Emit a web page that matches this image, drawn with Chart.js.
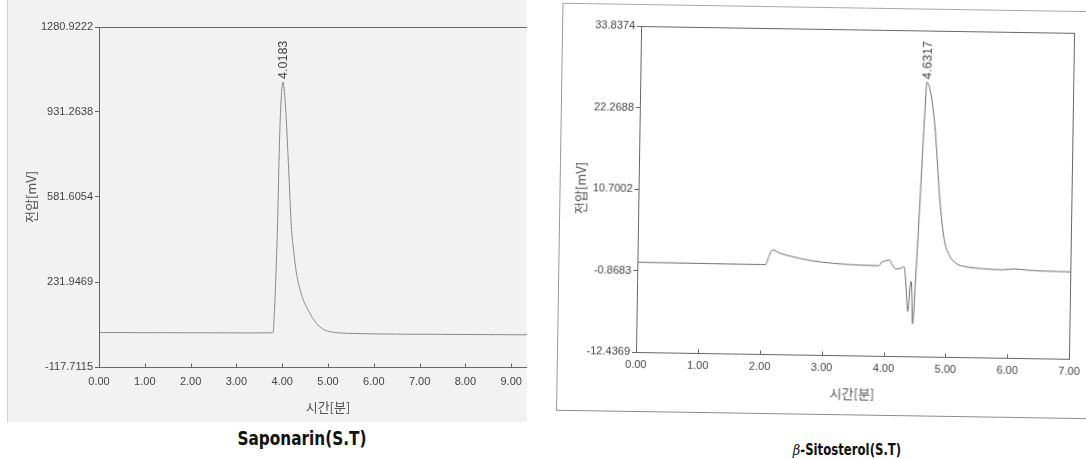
<!DOCTYPE html>
<html>
<head>
<meta charset="utf-8">
<script src="https://cdn.jsdelivr.net/npm/chart.js@4.4.0/dist/chart.umd.min.js"></script>
<style>
  html, body { margin: 0; padding: 0; background: #fff; width: 1086px; height: 459px; overflow: hidden; }
  #left { position: absolute; left: 0; top: 0; width: 527px; height: 422px; overflow: hidden; }
  #leftBg { position: absolute; left: 7px; top: 0; width: 520px; height: 422px; background: #f2f2f2;
            border-left: 1px solid #cfcfcf; box-sizing: border-box; }
  #leftCanvas { position: absolute; left: 0; top: 0; }
  #right { position: absolute; left: 557px; top: 4px; width: 529px; height: 408px;
           transform-origin: 79px 348px; transform: rotate(0.9deg); }
  #rightFrame { position: absolute; left: 0; top: 0; width: 600px; height: 408px; box-sizing: border-box;
                border-left: 1px solid #9a9a9a; border-top: 1px solid #a8a8a8; border-bottom: 1px solid #8c8c8c; }
  #rightCanvas { position: absolute; left: 0; top: 0; }
  .cap { position: absolute; white-space: nowrap; color: #111; font-weight: bold;
         font-family: 'DejaVu Sans Condensed', 'Liberation Sans Narrow', sans-serif; }
  .beta { font-family: 'DejaVu Serif', serif; font-style: italic; font-weight: normal; }
</style>
</head>
<body>
<div id="left">
  <div id="leftBg"></div>
  <canvas id="leftCanvas" width="600" height="422"></canvas>
</div>
<div id="right">
  <div id="rightFrame"></div>
  <canvas id="rightCanvas" width="529" height="408"></canvas>
</div>
<div class="cap" style="left:302px; top:438px; font-size:17px; transform: translate(-50%, -50%) scale(1, 1.12);">Saponarin(S.T)</div>
<div class="cap" style="left:847px; top:449px; font-size:14px; transform: translate(-50%, -50%) scale(0.93, 1.12);"><span class="beta">β</span>-Sitosterol(S.T)</div>

<script>
// Axis titles
const timeTitle = '시간[분]';
const voltTitle = '전압[mV]';

// Saponarin standard trace (time in min, detector signal in mV)
const saponarinTime = [0, 0.5, 1, 1.5, 2, 2.5, 3, 3.5, 3.78, 3.8, 3.83, 3.87, 3.9, 3.94, 3.97, 4.0183,
  4.05, 4.08, 4.14, 4.2, 4.25, 4.31, 4.43, 4.58, 4.73, 4.88, 5.03, 5.3, 5.6, 6, 6.5, 7, 7.5, 8, 8.5, 9, 9.5, 10];
const saponarinMv = [24, 24, 23.5, 23.5, 23, 23, 22.5, 22.5, 23, 24, 110, 300, 480, 800, 960, 1055,
  1010, 930, 700, 460, 360, 270, 175, 112, 66, 40, 28, 22, 20, 18.5, 17.5, 17, 16.5, 16, 15.5, 15, 15, 15];
const saponarinTimeTicks = [0, 1, 2, 3, 4, 5, 6, 7, 8, 9, 10];
const saponarinMvTicks = [-117.7115, 231.9469, 581.6054, 931.2638, 1280.9222];
const saponarinPeaks = [4.0183];

// beta-Sitosterol standard trace
const sitosterolTime = [0, 0.5, 1, 1.5, 2, 2.07, 2.12, 2.18, 2.3, 2.5, 2.75, 3, 3.3, 3.6, 3.9, 3.95, 4.0, 4.07,
  4.12, 4.18, 4.26, 4.31, 4.345, 4.38, 4.41, 4.43, 4.46, 4.5, 4.55, 4.6, 4.6317, 4.76, 4.87, 4.95, 5.03,
  5.14, 5.3, 5.6, 5.9, 6.1, 6.3, 6.6, 7];
const sitosterolMv = [0.3, 0.3, 0.28, 0.26, 0.25, 0.25, 1.4, 2.35, 1.9, 1.45, 1.0, 0.72, 0.5, 0.4, 0.35, 0.9, 1.05, 1.2,
  0.5, -0.1, 0.05, 0.25, -2.5, -6.1, -2.6, -1.8, -7.8, -1.0, 9.8, 21.1, 26.5, 21.2, 9.8, 4.2, 2.1,
  0.9, 0.4, 0.15, 0.05, 0.2, 0.05, -0.05, -0.1];
const sitosterolTimeTicks = [0, 1, 2, 3, 4, 5, 6, 7];
const sitosterolMvTicks = [-12.4369, -0.8683, 10.7002, 22.2688, 33.8374];
const sitosterolPeaks = [4.6317];

const tickFont = { family: 'Liberation Sans, Arial, sans-serif', size: 11 };
const koFont = { family: 'Noto Sans CJK KR, sans-serif', size: 13 };

// Plot frame plus short inward tick marks on the time axis
const framePlugin = {
  id: 'frame',
  afterDraw(chart) {
    const { ctx, chartArea: a, scales: { x } } = chart;
    ctx.save();
    ctx.strokeStyle = '#666';
    ctx.lineWidth = 1;
    const l = Math.round(a.left) + 0.5, t = Math.round(a.top) + 0.5;
    const r = Math.round(a.right) + 0.5, b = Math.round(a.bottom) + 0.5;
    ctx.strokeRect(l, t, r - l, b - t);
    x.ticks.forEach(tk => {
      const px = Math.round(x.getPixelForValue(tk.value)) + 0.5;
      ctx.beginPath();
      ctx.moveTo(px, b);
      ctx.lineTo(px, b - 4);
      ctx.stroke();
    });
    ctx.restore();
  }
};

// Vertical retention-time labels above each peak apex
const peakLabelPlugin = {
  id: 'peakLabels',
  afterDatasetsDraw(chart, args, opts) {
    const { ctx, scales: { x, y } } = chart;
    const pts = chart.data.datasets[0].data;
    (opts.times || []).forEach(t => {
      const apex = pts.reduce((best, p) => Math.abs(p.x - t) < Math.abs(best.x - t) ? p : best);
      const px = x.getPixelForValue(apex.x);
      const py = y.getPixelForValue(apex.y);
      ctx.save();
      ctx.translate(px + 1, py - 3);
      ctx.rotate(-Math.PI / 2);
      ctx.font = '12.5px "Liberation Sans", Arial, sans-serif';
      ctx.fillStyle = '#444';
      ctx.textAlign = 'left';
      ctx.textBaseline = 'middle';
      ctx.fillText(t.toFixed(4), 0, 0);
      ctx.restore();
    });
  }
};

function chromatogram(canvas, o) {
  const points = o.time.map((t, i) => ({ x: t, y: o.mv[i] }));
  return new Chart(canvas, {
    type: 'line',
    data: { datasets: [{ data: points, borderColor: o.lineColor, borderWidth: 1, pointRadius: 0,
      cubicInterpolationMode: 'monotone', fill: false }] },
    options: {
      responsive: false,
      animation: false,
      events: [],
      layout: { padding: o.padding },
      plugins: { legend: { display: false }, tooltip: { enabled: false }, peakLabels: { times: o.peaks } },
      scales: {
        x: {
          type: 'linear',
          min: o.timeTicks[0],
          max: o.timeTicks[o.timeTicks.length - 1],
          afterBuildTicks: s => { s.ticks = o.timeTicks.map(v => ({ value: v })); },
          afterFit: s => { s.height = o.xAxisHeight; },
          border: { display: false },
          grid: { display: false, drawTicks: false },
          ticks: { font: tickFont, color: '#444', padding: o.xTickPad, maxRotation: 0, autoSkip: false,
            callback: v => Number(v).toFixed(2) },
          title: { display: true, text: timeTitle, font: koFont, color: '#555',
            padding: { top: 0, bottom: o.xTitlePad } }
        },
        y: {
          type: 'linear',
          min: o.mvTicks[0],
          max: o.mvTicks[o.mvTicks.length - 1],
          afterBuildTicks: s => { s.ticks = o.mvTicks.map(v => ({ value: v })); },
          afterFit: s => { s.width = o.yAxisWidth; },
          border: { display: false },
          grid: { display: true, drawOnChartArea: false, drawTicks: true, tickLength: 4, tickColor: '#666' },
          ticks: { font: tickFont, color: '#444', padding: 2, autoSkip: false,
            callback: v => Number(v).toFixed(4) },
          title: { display: true, text: voltTitle, font: koFont, color: '#555',
            padding: { top: o.yTitlePad, bottom: 0 } }
        }
      }
    },
    plugins: [framePlugin, peakLabelPlugin]
  });
}

chromatogram(document.getElementById('leftCanvas'), {
  time: saponarinTime, mv: saponarinMv, timeTicks: saponarinTimeTicks, mvTicks: saponarinMvTicks,
  peaks: saponarinPeaks, lineColor: '#8a8a8a',
  padding: { top: 27, right: 43, left: 0, bottom: 0 },
  yAxisWidth: 99, xAxisHeight: 55, xTickPad: 8, xTitlePad: 7, yTitlePad: 23
});

chromatogram(document.getElementById('rightCanvas'), {
  time: sitosterolTime, mv: sitosterolMv, timeTicks: sitosterolTimeTicks, mvTicks: sitosterolMvTicks,
  peaks: sitosterolPeaks, lineColor: '#6e6e6e',
  padding: { top: 22, right: 13, left: 0, bottom: 0 },
  yAxisWidth: 79, xAxisHeight: 60, xTickPad: 6, xTitlePad: 14, yTitlePad: 13
});
</script>
</body>
</html>
